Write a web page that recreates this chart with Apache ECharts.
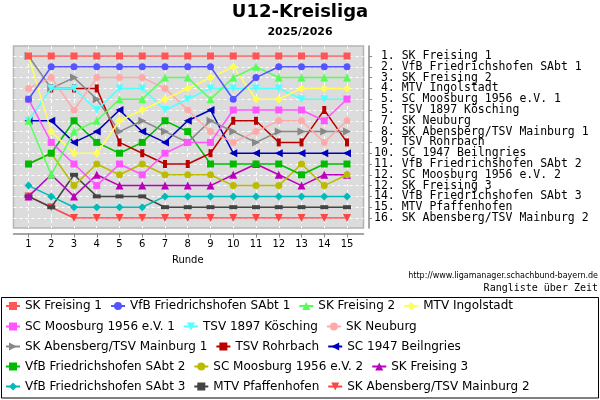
<!DOCTYPE html>
<html>
<head>
<meta charset="utf-8">
<script src="https://cdn.jsdelivr.net/npm/echarts@6/dist/echarts.min.js"></script>
<style>
html, body { margin: 0; padding: 0; background: #fff; }
#chart { width: 600px; height: 400px; }
</style>
</head>
<body>
<div id="chart"></div>
<script>
// Runden und Rangplaetze
const rounds = [1, 2, 3, 4, 5, 6, 7, 8, 9, 10, 11, 12, 13, 14, 15]
const places = [1, 2, 3, 4, 5, 6, 7, 8, 9, 10, 11, 12, 13, 14, 15, 16]

const teams = [
    'SK Freising 1', 'VfB Friedrichshofen SAbt 1', 'SK Freising 2', 'MTV Ingolstadt',
    'SC Moosburg 1956 e.V. 1', 'TSV 1897 Kösching', 'SK Neuburg',
    'SK Abensberg/TSV Mainburg 1', 'TSV Rohrbach', 'SC 1947 Beilngries',
    'VfB Friedrichshofen SAbt 2', 'SC Moosburg 1956 e.V. 2', 'SK Freising 3',
    'VfB Friedrichshofen SAbt 3', 'MTV Pfaffenhofen', 'SK Abensberg/TSV Mainburg 2',
]

// Endtabelle (rechte Achse)
const placeLabels = [
    ' 1. SK Freising 1', ' 2. VfB Friedrichshofen SAbt 1', ' 3. SK Freising 2',
    ' 4. MTV Ingolstadt', ' 5. SC Moosburg 1956 e.V. 1', ' 5. TSV 1897 Kösching',
    ' 7. SK Neuburg', ' 8. SK Abensberg/TSV Mainburg 1', ' 9. TSV Rohrbach',
    '10. SC 1947 Beilngries', '11. VfB Friedrichshofen SAbt 2', '12. SC Moosburg 1956 e.V. 2',
    '12. SK Freising 3', '14. VfB Friedrichshofen SAbt 3', '15. MTV Pfaffenhofen',
    '16. SK Abensberg/TSV Mainburg 2',
]

// Rang nach jeder Runde
const freising1 = [1, 1, 1, 1, 1, 1, 1, 1, 1, 1, 1, 1, 1, 1, 1]
const vfb1 = [5, 2, 2, 2, 2, 2, 2, 2, 2, 5, 3, 2, 2, 2, 2]
const freising2 = [7, 12, 8, 7, 5, 5, 3, 3, 5, 3, 2, 3, 3, 3, 3]
const ingolstadt = [1, 8, 10, 10, 7, 6, 5, 4, 3, 2, 5, 5, 4, 4, 4]
const moosburg1 = [5, 9, 11, 13, 11, 12, 10, 9, 9, 6, 6, 6, 6, 7, 5]
const koesching = [7, 4, 4, 6, 4, 4, 6, 5, 4, 4, 4, 4, 5, 5, 5]
const neuburg = [4, 3, 6, 3, 3, 3, 4, 6, 8, 9, 8, 7, 7, 9, 7]
const abensberg1 = [1, 4, 3, 5, 8, 7, 8, 9, 7, 8, 9, 8, 8, 8, 8]
const rohrbach = [null, 4, 4, 4, 9, 10, 11, 11, 10, 7, 7, 9, 9, 6, 9]
const beilngries = [7, 7, 9, 8, 6, 8, 9, 7, 6, 10, 10, 10, 10, 10, 10]
const vfb2 = [11, 10, 7, 9, 10, 9, 7, 8, 11, 11, 11, 11, 12, 11, 11]
const moosburg2 = [11, 10, 13, 11, 12, 11, 12, 12, 12, 13, 13, 13, 11, 13, 12]
const freising3 = [14, 12, 14, 12, 13, 13, 13, 13, 13, 12, 11, 12, 13, 12, 12]
const vfb3 = [13, 14, 15, 15, 15, 15, 14, 14, 14, 14, 14, 14, 14, 14, 14]
const pfaffenhofen = [14, 15, 12, 14, 14, 14, 15, 15, 15, 15, 15, 15, 15, 15, 15]
const abensberg2 = [14, 15, 16, 16, 16, 16, 16, 16, 16, 16, 16, 16, 16, 16, 16]

const rankData = [
    freising1, vfb1, freising2, ingolstadt, moosburg1, koesching, neuburg, abensberg1,
    rohrbach, beilngries, vfb2, moosburg2, freising3, vfb3, pfaffenhofen, abensberg2,
]

const colors = [
    '#ff5555', '#5555ff', '#55ff55', '#ffff55', '#ff55ff', '#55ffff', '#ffaaaa', '#888888',
    '#bb0000', '#0000bb', '#00bb00', '#bbbb00', '#bb00bb', '#00bbbb', '#444444', '#ff4444',
]

const triDown = 'path://M0,0L10,0L5,9Z'
const triLeft = 'path://M9,0L9,10L0,5Z'
const triRight = 'path://M0,0L9,5L0,10Z'
const symbols = [
    'rect', 'circle', 'triangle', 'diamond', 'rect', triDown, 'circle', triRight,
    'rect', triLeft, 'rect', 'circle', 'triangle', 'diamond', 'rect', triDown,
]
const symbolSizes = [
    7, 7, 8, 8, 7, [8, 8], 7, [8, 8],
    [4, 8], [8, 8], 7, 7, 8, 8, [8, 4], [8, 8],
]

// Legendenzeilen wie im Original
const legendRowSizes = [4, 3, 3, 3, 3]
const legendRowCenters = [307, 327.5, 347.5, 367.5, 387.5]

var myChart = echarts.init(document.getElementById('chart'))

let series = [
    {
        // Hilfsserie fuer das Gitter ueber die ganze Flaeche
        type: 'line',
        xAxisIndex: 0,
        yAxisIndex: 0,
        data: [],
        silent: true,
        z: 1,
        markLine: {
            silent: true,
            symbol: 'none',
            label: { show: false },
            lineStyle: { color: '#ffffff', type: [3, 3], width: 1 },
            emphasis: { disabled: true },
            data: rounds.map(r => ({ xAxis: r })).concat(places.map(p => ({ yAxis: p }))),
        },
    },
]
teams.forEach((name, i) => {
    series.push({
        name: name,
        type: 'line',
        xAxisIndex: 1,
        yAxisIndex: 1,
        z: 40 - i,
        data: rankData[i].map((v, k) => [rounds[k], v === null ? '-' : v]),
        symbol: symbols[i],
        symbolSize: symbolSizes[i],
        showAllSymbol: true,
        color: colors[i],
        lineStyle: { width: 1.5, color: colors[i] },
        itemStyle: { color: colors[i] },
        emphasis: { disabled: true },
    })
})

let legends = []
let start = 0
legendRowSizes.forEach((n, row) => {
    legends.push({
        data: teams.slice(start, start + n),
        orient: 'horizontal',
        left: 5,
        top: legendRowCenters[row] - 7,
        padding: 0,
        itemWidth: 14,
        itemHeight: 10,
        itemGap: 8,
        selectedMode: false,
        lineStyle: { width: 2 },
        textStyle: { fontFamily: 'DejaVu Sans', fontSize: 12, color: '#000' },
    })
    start += n
})

var option = {
    animation: false,
    backgroundColor: '#ffffff',
    title: [
        {
            text: 'U12-Kreisliga',
            left: 'center',
            top: 3,
            padding: 0,
            textStyle: { fontFamily: 'DejaVu Sans', fontSize: 18, fontWeight: 'bold', color: '#000' },
        },
        {
            text: '2025/2026',
            left: 'center',
            top: 27,
            padding: 0,
            textStyle: { fontFamily: 'DejaVu Sans', fontSize: 11, fontWeight: 'bold', color: '#000' },
        },
        {
            text: 'http://www.ligamanager.schachbund-bayern.de',
            right: 2,
            top: 272,
            padding: 0,
            textStyle: { fontFamily: 'DejaVu Sans', fontSize: 8, fontWeight: 'normal', color: '#000' },
        },
        {
            text: 'Rangliste über Zeit',
            right: 2,
            top: 283,
            padding: 0,
            textStyle: { fontFamily: 'DejaVu Sans Mono', fontSize: 10, fontWeight: 'normal', color: '#000' },
        },
    ],
    legend: legends,
    grid: [
        {
            left: 13.5,
            top: 46,
            width: 350,
            height: 182,
            show: true,
            backgroundColor: '#dcdcdc',
            borderColor: '#b4b4b4',
            borderWidth: 1.5,
        },
        {
            left: 28.5,
            top: 56,
            width: 318.5,
            height: 162,
        },
    ],
    xAxis: [
        {
            gridIndex: 0,
            type: 'value',
            min: 0.341,
            max: 15.725,
            offset: 5.5,
            axisLine: { show: true, onZero: false, lineStyle: { color: '#888', width: 1.5 } },
            axisTick: { show: false },
            axisLabel: { show: false },
            splitLine: { show: false },
        },
        {
            gridIndex: 1,
            type: 'value',
            min: 1,
            max: 15,
            interval: 1,
            offset: 15.5,
            axisLine: { show: false, onZero: false },
            axisTick: { show: true, length: 4, lineStyle: { color: '#888', width: 1 } },
            axisLabel: {
                margin: 6,
                fontFamily: 'DejaVu Sans',
                fontSize: 10,
                color: '#000',
                showMinLabel: true,
                showMaxLabel: true,
            },
            splitLine: { show: false },
            name: 'Runde',
            nameLocation: 'middle',
            nameGap: 22,
            nameTextStyle: { fontFamily: 'DejaVu Sans', fontSize: 10, color: '#000' },
        },
    ],
    yAxis: [
        {
            gridIndex: 0,
            type: 'value',
            inverse: true,
            min: 0.074,
            max: 16.926,
            position: 'right',
            offset: 5.5,
            axisLine: { show: true, onZero: false, lineStyle: { color: '#888', width: 1.5 } },
            axisTick: { show: false },
            axisLabel: { show: false },
            splitLine: { show: false },
        },
        {
            // Werteachse fuer die Raenge
            gridIndex: 1,
            type: 'value',
            inverse: true,
            min: 1,
            max: 16,
            interval: 1,
            show: false,
        },
        {
            // Beschriftung mit der Endtabelle
            gridIndex: 1,
            type: 'category',
            data: placeLabels,
            inverse: true,
            boundaryGap: false,
            position: 'right',
            offset: 22,
            axisLine: { show: false, onZero: false },
            axisTick: { show: true, length: 3, interval: 0, lineStyle: { color: '#888', width: 1 } },
            axisLabel: {
                interval: 0,
                margin: 5,
                fontFamily: 'DejaVu Sans Mono',
                fontSize: 11.5,
                color: '#000',
                align: 'left',
            },
            splitLine: { show: false },
        },
    ],
    graphic: [
        {
            type: 'rect',
            silent: true,
            shape: { x: 1.5, y: 297.5, width: 597, height: 100.5 },
            style: { fill: 'none', stroke: '#000', lineWidth: 1 },
        },
    ],
    series: series,
}

myChart.setOption(option)
</script>
</body>
</html>
